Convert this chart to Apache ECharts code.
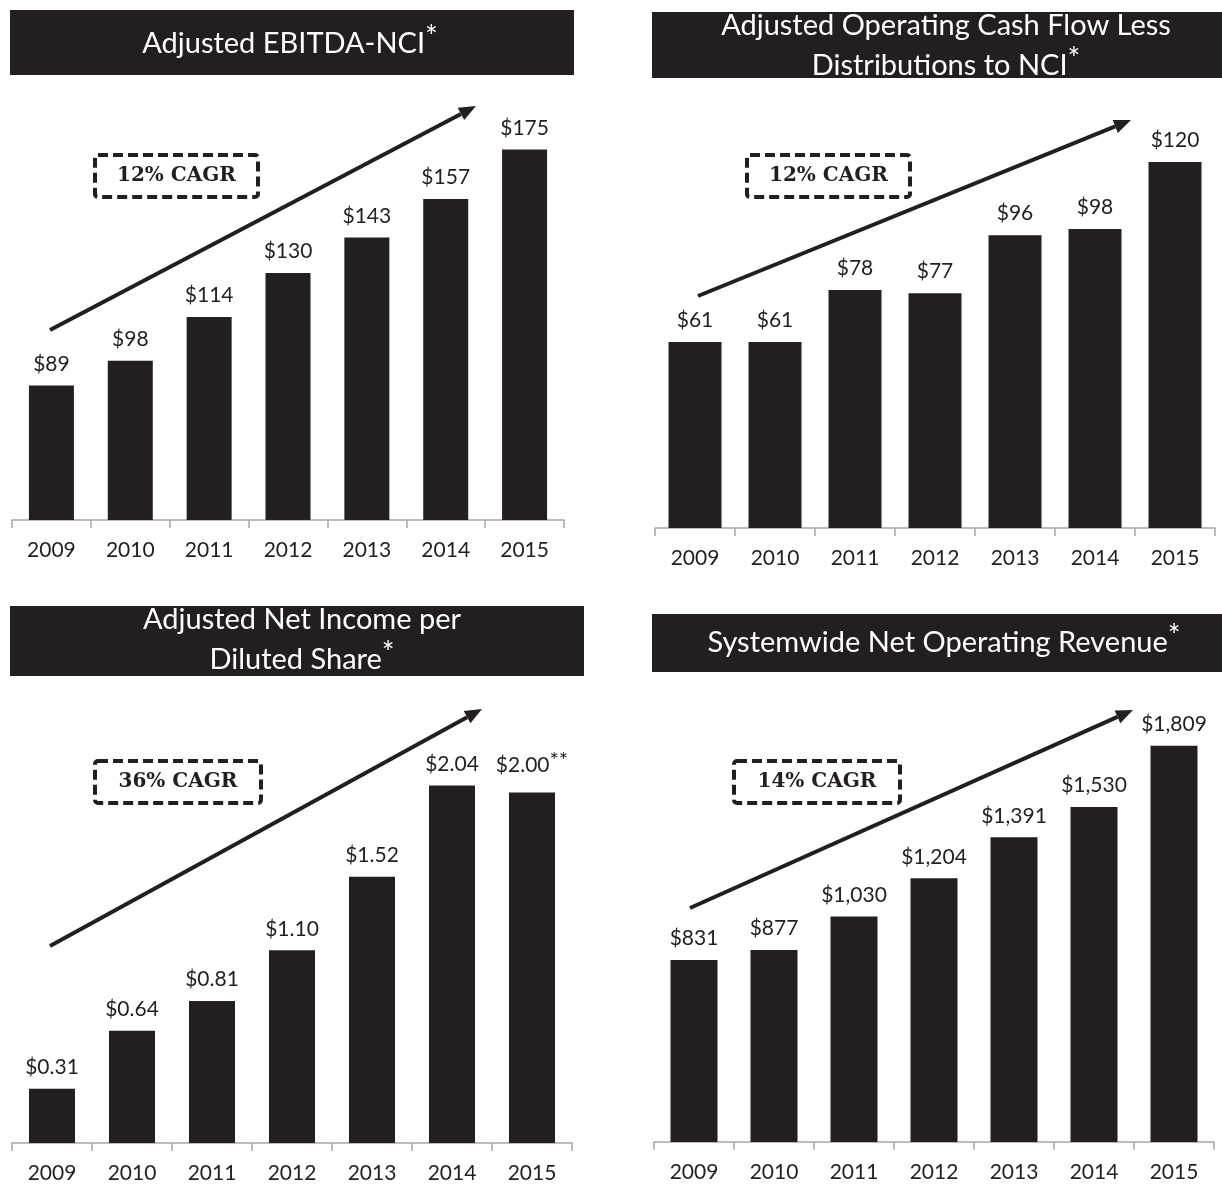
<!DOCTYPE html>
<html>
<head>
<meta charset="utf-8">
<script src="https://cdn.jsdelivr.net/npm/echarts@6/dist/echarts.min.js"></script>
<style>
  html, body { margin: 0; padding: 0; background: #fff; }
  #chart { width: 1222px; height: 1188px; }
</style>
</head>
<body>
<div id="chart"></div>
<script>
// data
const years = ['2009', '2010', '2011', '2012', '2013', '2014', '2015'];
const ebitda = [89, 98, 114, 130, 143, 157, 175];
const cashFlow = [61, 61, 78, 77, 96, 98, 120];
const netIncome = [0.31, 0.64, 0.81, 1.10, 1.52, 2.04, 2.00];
const netIncomeNotes = ['', '', '', '', '', '', '**'];
const revenue = [831, 877, 1030, 1204, 1391, 1530, 1809];
const cagrLabels = ['12% CAGR', '12% CAGR', '36% CAGR', '14% CAGR'];

const DARK = '#231f20';
const FONT = 'Lato';

const myChart = echarts.init(document.getElementById('chart'));

// panel layout (pixels)
const grids = [
    { left: 12, right: 658, top: 81, bottom: 668 },
    { left: 655, right: 7, top: 101, bottom: 660 },
    { left: 12, right: 650, top: 705, bottom: 45 },
    { left: 654, right: 8, top: 704, bottom: 46 }
];
const yRanges = [[40, 200], [0, 140], [0, 2.5], [0, 2000]];
const barWidths = [45, 53, 46, 47];

function money(v, idx) {
    if (idx === 2) return '$' + v.toFixed(2);
    return '$' + v.toLocaleString('en-US');
}

// arrow = line + head
function arrow(x1, y1, x2, y2) {
    const ang = Math.atan2(y2 - y1, x2 - x1);
    const L = 17, W = 7;
    const bx = x2 - L * Math.cos(ang), by = y2 - L * Math.sin(ang);
    const px = -Math.sin(ang) * W, py = Math.cos(ang) * W;
    return [
        { type: 'line', shape: { x1: x1, y1: y1, x2: bx, y2: by }, style: { stroke: DARK, lineWidth: 4 } },
        { type: 'polygon', shape: { points: [[x2, y2], [bx + px, by + py], [bx - px, by - py]] }, style: { fill: DARK } }
    ];
}

function cagrBox(x, y, w, h, text) {
    return [
        { type: 'rect', shape: { x: x, y: y, width: w, height: h, r: 3 },
          style: { fill: 'none', stroke: DARK, lineWidth: 4, lineDash: [10, 5] } },
        { type: 'text', x: x + w / 2, y: y + h / 2,
          style: { text: text, fill: DARK, font: 'bold 20px "DejaVu Serif"', align: 'center', verticalAlign: 'middle' } }
    ];
}

const titleRich = {
    t: { fontFamily: FONT, fontSize: 29, fill: '#fff', lineHeight: 36 },
    s: { fontFamily: FONT, fontSize: 30, fill: '#fff', verticalAlign: 'top', padding: [0, 0, 14, 0] }
};

function titleBox(x, y, w, h, text, cx, cy) {
    return [
        { type: 'rect', shape: { x: x, y: y, width: w, height: h }, style: { fill: DARK } },
        { type: 'text', x: cx, y: cy,
          style: { text: text, rich: titleRich, align: 'center', verticalAlign: 'middle' } }
    ];
}

let graphics = [];
graphics = graphics.concat(titleBox(10, 10, 564, 65, '{t|Adjusted EBITDA-NCI}{s|*}', 290, 44));
graphics = graphics.concat(titleBox(652, 12, 570, 66, '{t|Adjusted Operating Cash Flow Less}\n{t|Distributions to NCI}{s|*}', 946, 48));
graphics = graphics.concat(titleBox(10, 606, 574, 70, '{t|Adjusted Net Income per}\n{t|Diluted Share}{s|*}', 302, 642));
graphics = graphics.concat(titleBox(652, 614, 570, 58, '{t|Systemwide Net Operating Revenue}{s|*}', 944, 643));

graphics = graphics.concat(cagrBox(95, 155, 163, 42, cagrLabels[0]));
graphics = graphics.concat(cagrBox(747, 155, 163, 42, cagrLabels[1]));
graphics = graphics.concat(cagrBox(95, 761, 166, 42, cagrLabels[2]));
graphics = graphics.concat(cagrBox(734, 761, 166, 42, cagrLabels[3]));

graphics = graphics.concat(arrow(50, 330, 476, 106));
graphics = graphics.concat(arrow(698, 296, 1131, 120));
graphics = graphics.concat(arrow(50, 946, 482, 709));
graphics = graphics.concat(arrow(690, 908, 1133, 710));

const seriesData = [ebitda, cashFlow, netIncome, revenue];

myChart.setOption({
    animation: false,
    grid: grids,
    xAxis: grids.map((g, i) => ({
        type: 'category',
        gridIndex: i,
        data: years,
        axisLine: { lineStyle: { color: '#a6a6a6', width: 1.5 } },
        axisTick: { show: true, length: 8, lineStyle: { color: '#a6a6a6', width: 1.5 } },
        axisLabel: { color: DARK, fontFamily: FONT, fontSize: 21, margin: 20 }
    })),
    yAxis: grids.map((g, i) => ({
        type: 'value',
        gridIndex: i,
        min: yRanges[i][0],
        max: yRanges[i][1],
        show: false,
        splitLine: { show: false }
    })),
    series: seriesData.map((d, i) => ({
        type: 'bar',
        xAxisIndex: i,
        yAxisIndex: i,
        data: d,
        barWidth: barWidths[i],
        itemStyle: { color: DARK },
        label: {
            show: true,
            position: 'top',
            distance: 11,
            color: DARK,
            fontFamily: FONT,
            fontSize: 21,
            formatter: function (p) {
                let s = '{v|' + money(p.value, i) + '}';
                if (i === 2 && netIncomeNotes[p.dataIndex]) s += '{s|' + netIncomeNotes[p.dataIndex] + '}';
                return s;
            },
            rich: {
                v: { color: DARK, fontFamily: FONT, fontSize: 21 },
                s: { color: DARK, fontFamily: FONT, fontSize: 22, verticalAlign: 'top', padding: [0, 0, 10, 0] }
            }
        }
    })),
    graphic: graphics
});

window.addEventListener('resize', () => {
    myChart.resize();
});
</script>
</body>
</html>
